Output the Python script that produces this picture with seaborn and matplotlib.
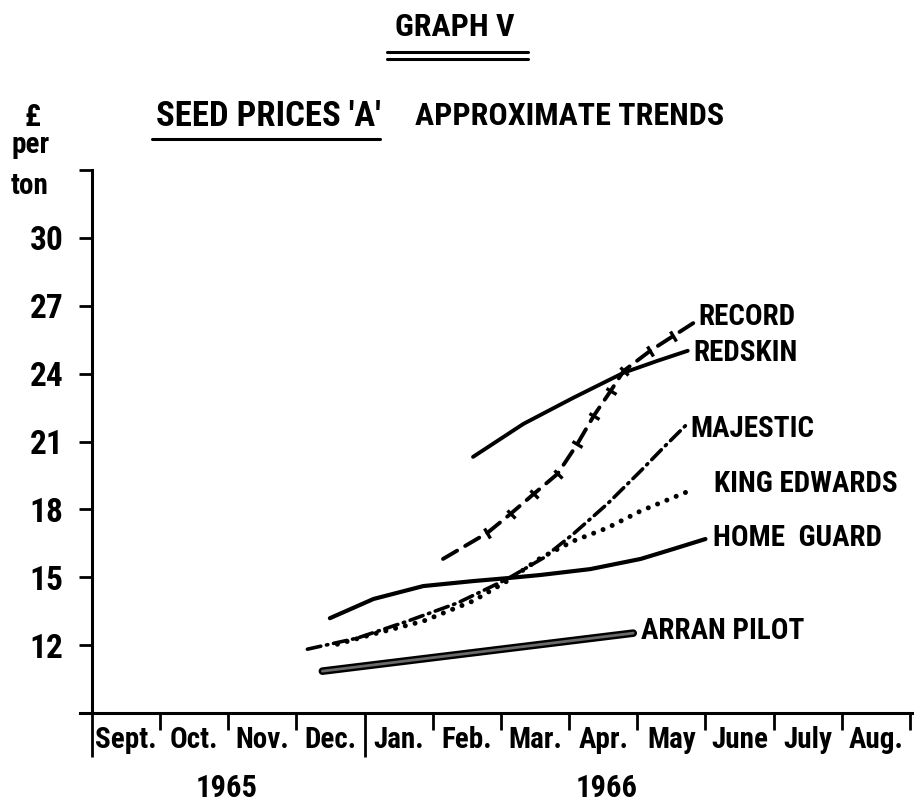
import matplotlib
matplotlib.use("Agg")
import matplotlib.pyplot as plt
import seaborn as sns
import numpy as np
from matplotlib.markers import MarkerStyle
from matplotlib.transforms import Affine2D
from matplotlib.lines import Line2D

# ---------------- data ----------------
months = ["Sept.", "Oct.", "Nov.", "Dec.", "Jan.", "Feb.", "Mar.", "Apr.",
          "May", "June", "July", "Aug."]
years = ["1965", "1966"]
yticks = [12, 15, 18, 21, 24, 27, 30]

record_x = [5.15, 5.80, 6.14, 6.48, 6.83, 7.12, 7.36, 7.61, 7.80, 8.19, 8.53, 8.83]
record_y = [15.81, 16.96, 17.80, 18.68, 19.57, 20.89, 22.13, 23.24, 24.12, 25.01, 25.67, 26.25]

redskin_x = [5.59, 6.33, 7.06, 7.80, 8.30, 8.74]
redskin_y = [20.32, 21.78, 22.93, 24.04, 24.57, 25.01]

majestic_x = [3.16, 3.89, 4.63, 5.36, 6.09, 6.62, 7.06, 7.56, 8.05, 8.38, 8.72]
majestic_y = [11.82, 12.31, 13.06, 13.86, 14.92, 15.85, 16.91, 18.24, 19.70, 20.72, 21.74]

king_x = [3.60, 4.13, 4.86, 5.59, 6.09, 6.58, 7.06, 7.56, 8.05, 8.83]
king_y = [12.04, 12.49, 13.06, 13.95, 14.83, 15.85, 16.60, 17.18, 17.93, 18.90]

home_x = [3.49, 4.13, 4.86, 5.59, 6.09, 6.58, 7.31, 8.05, 8.53, 9.00]
home_y = [13.19, 14.04, 14.61, 14.83, 14.96, 15.10, 15.36, 15.81, 16.25, 16.69]

arran_x = [3.38, 7.94]
arran_y = [10.85, 12.53]

# ---------------- style ----------------
sns.set_theme(style="white")
FONT = ["Roboto Condensed", "DejaVu Sans"]
plt.rcParams["font.family"] = FONT
plt.rcParams["font.weight"] = "bold"
plt.rcParams["text.color"] = "black"
plt.rcParams["xtick.color"] = "black"
plt.rcParams["ytick.color"] = "black"

W, H = 914, 807
fig = plt.figure(figsize=(W / 100, H / 100), dpi=100)
fig.patch.set_facecolor("white")
ax = fig.add_axes([80 / W, 94 / H, 832 / W, 543 / H])
ax.set_facecolor("white")
ax.set_xlim(-0.176, 12.03)
ax.set_ylim(9, 33)

for s in ["top", "right"]:
    ax.spines[s].set_visible(False)
ax.spines["left"].set_position(("data", 0))
for s in ["left", "bottom"]:
    ax.spines[s].set_linewidth(2.2)
    ax.spines[s].set_color("black")

# y ticks
ax.set_yticks(yticks + [33])
ax.set_yticklabels([str(v) for v in yticks] + [""])
ax.tick_params(axis="y", which="major", left=True, direction="out", length=9.5,
               width=2, pad=11, labelsize=24)

# x ticks: month boundaries (major) and month names (minor)
ax.set_xticks(list(range(13)))
ax.set_xticklabels([""] * 13)
ax.set_xticks(np.arange(len(months)) + 0.5, minor=True)
ax.set_xticklabels(months, minor=True)
ax.tick_params(axis="x", which="major", bottom=True, direction="out", length=12,
               width=2)
ax.tick_params(axis="x", which="minor", bottom=True, length=0, pad=9, labelsize=21)
for i, t in enumerate(ax.xaxis.get_major_ticks()):
    if i in (0, 4):
        t.tick1line.set_markersize(32)
ax.grid(False)

def draw(x, y, **kw):
    sns.lineplot(x=x, y=y, ax=ax, sort=False, estimator=None, color="black", **kw)

# Arran Pilot: thick textured line
draw(arran_x, arran_y, linewidth=5.5, solid_capstyle="round")
draw(arran_x, arran_y, linewidth=2.0, solid_capstyle="round")
ax.lines[-1].set_color("#6a6a6a")

# Home Guard
draw(home_x, home_y, linewidth=3.0, solid_capstyle="round")
# Redskin
draw(redskin_x, redskin_y, linewidth=2.8, solid_capstyle="round")
# King Edwards (dotted)
draw(king_x, king_y, linewidth=3.6, linestyle=(0, (0.01, 2.0)),
     dash_capstyle="round")
# Majestic (dash-dot)
draw(majestic_x, majestic_y, linewidth=2.6, linestyle=(0, (3.8, 1.6, 0.4, 1.6)),
     dash_capstyle="round")
# Record (dashes with cross ticks)
draw(record_x, record_y, linewidth=2.8, linestyle=(0, (4.2, 2.4)),
     dash_capstyle="round")
pts = ax.transData.transform(np.column_stack([record_x, record_y]))
ang = np.degrees(np.arctan2(np.gradient(pts[:, 1]), np.gradient(pts[:, 0])))
for xx, yy, a in list(zip(record_x, record_y, ang))[1:-1]:
    ax.plot([xx], [yy], linestyle="none", color="black", markersize=8,
            markeredgewidth=2.4,
            marker=MarkerStyle("|", transform=Affine2D().rotate_deg(a)))

# series labels
labels = [
    ("RECORD", record_x, record_y, (4, 6)),
    ("REDSKIN", redskin_x, redskin_y, (6, -2)),
    ("MAJESTIC", majestic_x, majestic_y, (4, -4)),
    ("KING EDWARDS", king_x, king_y, (20, 5)),
    ("HOME  GUARD", home_x, home_y, (8, 1)),
    ("ARRAN PILOT", arran_x, arran_y, (8, 2)),
]
for name, xs, ys, off in labels:
    ax.annotate(name, xy=(xs[-1], ys[-1]), xytext=off, textcoords="offset pixels",
                ha="left", va="center", fontsize=21, fontweight="bold")

# ---------------- figure texts ----------------
def fx(px):
    return px / W

def fy(py):
    return 1 - py / H

fig.text(fx(455), fy(27), "GRAPH V", ha="center", va="center", fontsize=23,
         fontweight="bold")
for yy in (52, 59):
    fig.add_artist(Line2D([fx(387), fx(528)], [fy(yy), fy(yy)], color="black",
                          linewidth=2.2, transform=fig.transFigure))

fig.text(fx(156), fy(116), "SEED PRICES 'A'", ha="left", va="center",
         fontsize=25, fontweight="bold")
fig.text(fx(415), fy(116), "APPROXIMATE TRENDS", ha="left", va="center",
         fontsize=23, fontweight="bold")
fig.add_artist(Line2D([fx(152), fx(380)], [fy(139), fy(139)], color="black",
                      linewidth=2.2, transform=fig.transFigure))

fig.text(fx(32), fy(117), "£", ha="center", va="center", fontsize=22,
         fontweight="bold")
fig.text(fx(31), fy(145), "per", ha="center", va="center", fontsize=21,
         fontweight="bold")
fig.text(fx(30), fy(186), "ton", ha="center", va="center", fontsize=21,
         fontweight="bold")

fig.text(fx(227), fy(788), years[0], ha="center", va="center", fontsize=22,
         fontweight="bold")
fig.text(fx(607), fy(788), years[1], ha="center", va="center", fontsize=22,
         fontweight="bold")

fig.savefig("out.png", dpi=100, facecolor="white")
